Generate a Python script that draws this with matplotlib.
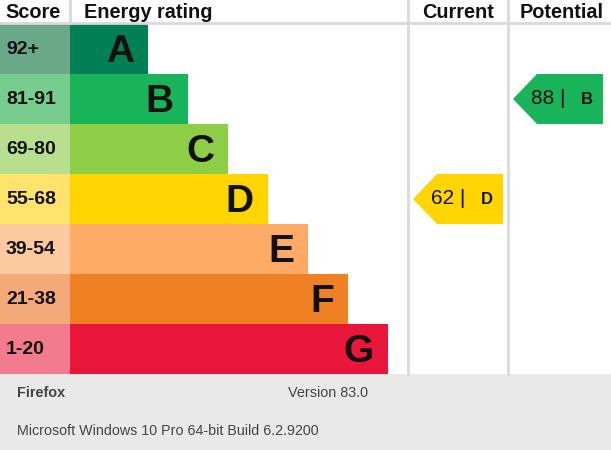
import matplotlib.pyplot as plt
from matplotlib.patches import Rectangle, Polygon

plt.rcParams['font.family'] = ['Liberation Sans', 'DejaVu Sans']

# EPC bands
bands = ['A', 'B', 'C', 'D', 'E', 'F', 'G']
scores = ['92+', '81-91', '69-80', '55-68', '39-54', '21-38', '1-20']
band_colors = ['#008054', '#19b459', '#8dce46', '#ffd500', '#fcaa65', '#ef8023', '#e9153b']
score_colors = ['#6aa88a', '#77cc90', '#b8df8e', '#ffe36d', '#fdcaa0', '#f4aa78', '#f27b8e']

current_value, current_band = 62, 'D'
potential_value, potential_band = 88, 'B'

footer_name = 'Firefox'
footer_version = 'Version 83.0'
footer_os = 'Microsoft Windows 10 Pro 64-bit Build 6.2.9200'

W, H = 611, 450
fig = plt.figure(figsize=(W / 100, H / 100), dpi=100)
ax = fig.add_axes([0, 0, 1, 1])
ax.set_xlim(0, W)
ax.set_ylim(H, 0)
ax.axis('off')

top = 24
row_h = 50
grid = '#d9d9d9'

# header
ax.text(5, 12, 'Score', fontsize=14.3, fontweight='bold', va='center', color='#111')
ax.text(84, 12, 'Energy rating', fontsize=14.3, fontweight='bold', va='center', color='#111')
ax.text(458, 12, 'Current', fontsize=14.3, fontweight='bold', va='center', ha='center', color='#111')
ax.text(562, 12, 'Potential', fontsize=14.3, fontweight='bold', va='center', ha='center', color='#111')
ax.plot([0, W], [23, 23], color=grid, lw=2)
ax.plot([70, 70], [0, 23], color=grid, lw=2)
for x in (408, 508):
    ax.plot([x, x], [0, 374], color=grid, lw=2)

# bands
for i, (b, s) in enumerate(zip(bands, scores)):
    y0 = top + i * row_h
    ax.add_patch(Rectangle((0, y0), 70, row_h, color=score_colors[i], lw=0))
    end = 148 + 40 * i
    ax.add_patch(Rectangle((70, y0), end - 70, row_h, color=band_colors[i], lw=0))
    ax.text(6, y0 + row_h / 2 + 0.5, s, fontsize=14, fontweight='bold', va='center', color='#111')
    ax.text(end - 14, y0 + row_h / 2 + 3, b, fontsize=28, fontweight='bold',
            va='center', ha='right', color='#111')


def arrow(x_tip, value, band):
    i = bands.index(band)
    y0 = top + i * row_h
    pts = [(x_tip, y0 + row_h / 2), (x_tip + 24, y0), (x_tip + 90, y0),
           (x_tip + 90, y0 + row_h), (x_tip + 24, y0 + row_h)]
    ax.add_patch(Polygon(pts, closed=True, color=band_colors[i], lw=0))
    ax.text(x_tip + 18, y0 + row_h / 2, f'{value} |', fontsize=15, va='center', color='#111')
    ax.text(x_tip + 68, y0 + row_h / 2 + 1, band, fontsize=12, fontweight='bold',
            va='center', color='#111')


arrow(413, current_value, current_band)
arrow(513, potential_value, potential_band)

# footer
ax.add_patch(Rectangle((0, 374), W, H - 374, color='#e9e9e9', lw=0))
ax.text(17, 393, footer_name, fontsize=10.4, fontweight='bold', va='center', color='#444')
ax.text(368, 393, footer_version, fontsize=10.4, va='center', ha='right', color='#444')
ax.text(17, 431, footer_os, fontsize=10.3, va='center', color='#444')

fig.savefig('out.png', dpi=100)
